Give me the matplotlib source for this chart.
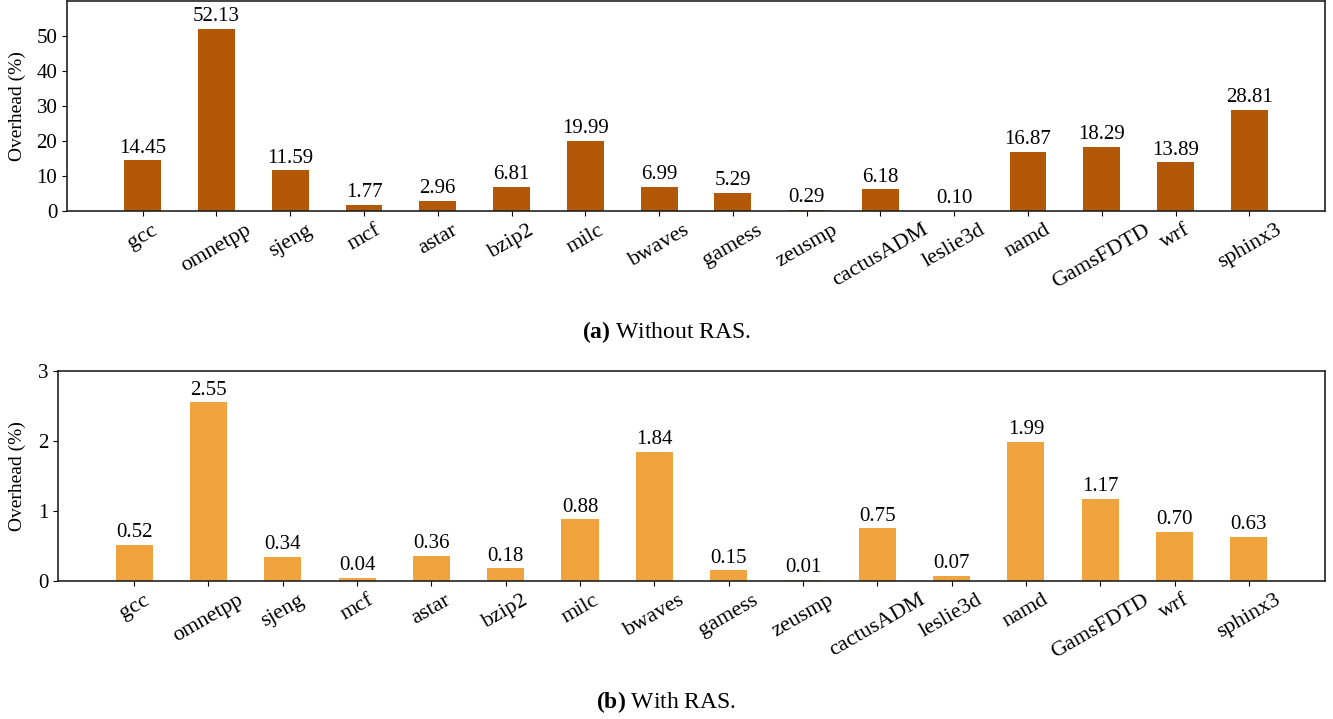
import numpy as np
import matplotlib
matplotlib.use('Agg')
import matplotlib.pyplot as plt

plt.rcParams['font.family'] = ['Liberation Serif', 'DejaVu Serif']
plt.rcParams['mathtext.fontset'] = 'custom'
plt.rcParams['mathtext.rm'] = 'Liberation Serif'
plt.rcParams['mathtext.bf'] = 'Liberation Serif:bold'

benchmarks = ['gcc', 'omnetpp', 'sjeng', 'mcf', 'astar', 'bzip2', 'milc', 'bwaves',
              'gamess', 'zeusmp', 'cactusADM', 'leslie3d', 'namd', 'GamsFDTD', 'wrf', 'sphinx3']
# 开销(%)
without_ras = [14.45, 52.13, 11.59, 1.77, 2.96, 6.81, 19.99, 6.99,
               5.29, 0.29, 6.18, 0.10, 16.87, 18.29, 13.89, 28.81]
with_ras = [0.52, 2.55, 0.34, 0.04, 0.36, 0.18, 0.88, 1.84,
            0.15, 0.01, 0.75, 0.07, 1.99, 1.17, 0.70, 0.63]


def draw_bars(ax, values, color, ylim, yticks):
    x = np.arange(len(benchmarks))
    bars = ax.bar(x, values, width=0.5, color=color)
    for b, v in zip(bars, values):
        ax.annotate('%.2f' % v, (b.get_x() + b.get_width() / 2, v),
                    xytext=(0, 2), textcoords='offset points',
                    ha='center', va='bottom', fontsize=15)
    ax.set_xticks(x)
    ax.set_xticklabels(benchmarks, rotation=30, fontsize=16)
    ax.set_ylim(*ylim)
    ax.set_yticks(yticks)
    ax.tick_params(axis='y', labelsize=15)
    ax.set_ylabel('Overhead (%)', fontsize=14)
    for s in ax.spines.values():
        s.set_linewidth(1.2)
        s.set_color('#222222')


fig = plt.figure(figsize=(13.33, 7.19), dpi=100)
ax1 = fig.add_axes([0.0503, 0.7065, 0.9437, 0.2921])
ax2 = fig.add_axes([0.0435, 0.192, 0.9505, 0.292])

draw_bars(ax1, without_ras, '#b35806', (0, 60), range(0, 51, 10))
draw_bars(ax2, with_ras, '#f1a340', (0, 3), range(0, 4))
ax1.yaxis.set_label_coords(-0.033, 0.5)
ax2.yaxis.set_label_coords(-0.025, 0.5)

fig.text(0.5, 1 - 332 / 719, r'$\mathbf{(a)}$ Without RAS.', ha='center', va='center', fontsize=17)
fig.text(0.5, 1 - 702 / 719, r'$\mathbf{(b)}$ With RAS.', ha='center', va='center', fontsize=17)

fig.savefig('out.png', dpi=100)
